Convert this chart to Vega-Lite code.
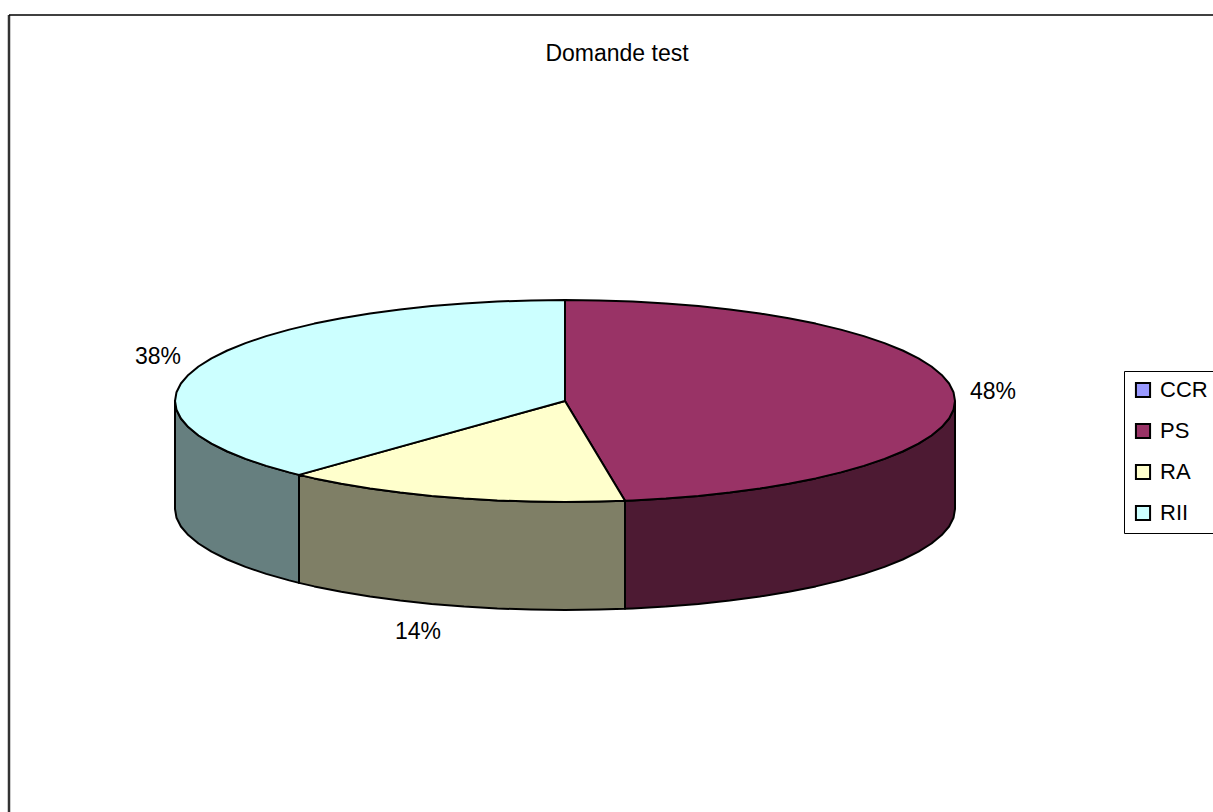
{"$schema":"https://vega.github.io/schema/vega-lite/v6.json","width":1213,"height":812,"autosize":{"type":"none"},"padding":0,"background":"white","view":{"stroke":null},
"datasets":{
"frame":[{"x":-556,"x2":-556,"y":386,"y2":-411,"edge":"left"},{"x":-556,"x2":648,"y":386,"y2":386,"edge":"top"}],
"labels":[{"label":"Domande test","x":52,"y":347},{"label":"48%","x":428,"y":9},{"label":"38%","x":-407,"y":44},{"label":"14%","x":-147,"y":-231}],
"sides":[
{"slice":"PS","i":1,"x":390,"y":0},{"slice":"PS","i":2,"x":388.5,"y":-8.8},{"slice":"PS","i":3,"x":384.1,"y":-17.5},{"slice":"PS","i":4,"x":376.7,"y":-26.1},{"slice":"PS","i":5,"x":366.5,"y":-34.5},{"slice":"PS","i":6,"x":353.5,"y":-42.7},{"slice":"PS","i":7,"x":337.7,"y":-50.5},{"slice":"PS","i":8,"x":319.5,"y":-57.9},{"slice":"PS","i":9,"x":298.8,"y":-64.9},{"slice":"PS","i":10,"x":275.8,"y":-71.4},{"slice":"PS","i":11,"x":250.7,"y":-77.4},{"slice":"PS","i":12,"x":223.7,"y":-82.7},{"slice":"PS","i":13,"x":195,"y":-87.5},{"slice":"PS","i":14,"x":164.8,"y":-91.5},{"slice":"PS","i":15,"x":133.4,"y":-94.9},{"slice":"PS","i":16,"x":100.9,"y":-97.6},{"slice":"PS","i":17,"x":67.7,"y":-99.5},{"slice":"PS","i":18,"x":60,"y":-99.8},
{"slice":"PS","i":19,"x":60,"y":-207.8},{"slice":"PS","i":20,"x":67.7,"y":-207.5},{"slice":"PS","i":21,"x":100.9,"y":-205.6},{"slice":"PS","i":22,"x":133.4,"y":-202.9},{"slice":"PS","i":23,"x":164.8,"y":-199.5},{"slice":"PS","i":24,"x":195,"y":-195.5},{"slice":"PS","i":25,"x":223.7,"y":-190.7},{"slice":"PS","i":26,"x":250.7,"y":-185.4},{"slice":"PS","i":27,"x":275.8,"y":-179.4},{"slice":"PS","i":28,"x":298.8,"y":-172.9},{"slice":"PS","i":29,"x":319.5,"y":-165.9},{"slice":"PS","i":30,"x":337.7,"y":-158.5},{"slice":"PS","i":31,"x":353.5,"y":-150.7},{"slice":"PS","i":32,"x":366.5,"y":-142.5},{"slice":"PS","i":33,"x":376.7,"y":-134.1},{"slice":"PS","i":34,"x":384.1,"y":-125.5},{"slice":"PS","i":35,"x":388.5,"y":-116.8},{"slice":"PS","i":36,"x":390,"y":-108},{"slice":"PS","i":37,"x":390,"y":0},
{"slice":"RA","i":1,"x":60,"y":-99.8},{"slice":"RA","i":2,"x":34,"y":-100.6},{"slice":"RA","i":3,"x":0,"y":-101},{"slice":"RA","i":4,"x":-34,"y":-100.6},{"slice":"RA","i":5,"x":-67.7,"y":-99.5},{"slice":"RA","i":6,"x":-100.9,"y":-97.6},{"slice":"RA","i":7,"x":-133.4,"y":-94.9},{"slice":"RA","i":8,"x":-164.8,"y":-91.5},{"slice":"RA","i":9,"x":-195,"y":-87.5},{"slice":"RA","i":10,"x":-223.7,"y":-82.7},{"slice":"RA","i":11,"x":-250.7,"y":-77.4},{"slice":"RA","i":12,"x":-266,"y":-73.9},
{"slice":"RA","i":13,"x":-266,"y":-181.9},{"slice":"RA","i":14,"x":-250.7,"y":-185.4},{"slice":"RA","i":15,"x":-223.7,"y":-190.7},{"slice":"RA","i":16,"x":-195,"y":-195.5},{"slice":"RA","i":17,"x":-164.8,"y":-199.5},{"slice":"RA","i":18,"x":-133.4,"y":-202.9},{"slice":"RA","i":19,"x":-100.9,"y":-205.6},{"slice":"RA","i":20,"x":-67.7,"y":-207.5},{"slice":"RA","i":21,"x":-34,"y":-208.6},{"slice":"RA","i":22,"x":0,"y":-209},{"slice":"RA","i":23,"x":34,"y":-208.6},{"slice":"RA","i":24,"x":60,"y":-207.8},{"slice":"RA","i":25,"x":60,"y":-99.8},
{"slice":"RII","i":1,"x":-266,"y":-73.9},{"slice":"RII","i":2,"x":-275.8,"y":-71.4},{"slice":"RII","i":3,"x":-298.8,"y":-64.9},{"slice":"RII","i":4,"x":-319.5,"y":-57.9},{"slice":"RII","i":5,"x":-337.7,"y":-50.5},{"slice":"RII","i":6,"x":-353.5,"y":-42.7},{"slice":"RII","i":7,"x":-366.5,"y":-34.5},{"slice":"RII","i":8,"x":-376.7,"y":-26.1},{"slice":"RII","i":9,"x":-384.1,"y":-17.5},{"slice":"RII","i":10,"x":-388.5,"y":-8.8},{"slice":"RII","i":11,"x":-390,"y":0},
{"slice":"RII","i":12,"x":-390,"y":-108},{"slice":"RII","i":13,"x":-388.5,"y":-116.8},{"slice":"RII","i":14,"x":-384.1,"y":-125.5},{"slice":"RII","i":15,"x":-376.7,"y":-134.1},{"slice":"RII","i":16,"x":-366.5,"y":-142.5},{"slice":"RII","i":17,"x":-353.5,"y":-150.7},{"slice":"RII","i":18,"x":-337.7,"y":-158.5},{"slice":"RII","i":19,"x":-319.5,"y":-165.9},{"slice":"RII","i":20,"x":-298.8,"y":-172.9},{"slice":"RII","i":21,"x":-275.8,"y":-179.4},{"slice":"RII","i":22,"x":-266,"y":-181.9},{"slice":"RII","i":23,"x":-266,"y":-73.9}
],
"tops":[
{"slice":"PS","i":0,"x":0,"y":0},{"slice":"PS","i":1,"x":0,"y":101},{"slice":"PS","i":2,"x":34,"y":100.6},{"slice":"PS","i":3,"x":67.7,"y":99.5},{"slice":"PS","i":4,"x":100.9,"y":97.6},{"slice":"PS","i":5,"x":133.4,"y":94.9},{"slice":"PS","i":6,"x":164.8,"y":91.5},{"slice":"PS","i":7,"x":195,"y":87.5},{"slice":"PS","i":8,"x":223.7,"y":82.7},{"slice":"PS","i":9,"x":250.7,"y":77.4},{"slice":"PS","i":10,"x":275.8,"y":71.4},{"slice":"PS","i":11,"x":298.8,"y":64.9},{"slice":"PS","i":12,"x":319.5,"y":57.9},{"slice":"PS","i":13,"x":337.7,"y":50.5},{"slice":"PS","i":14,"x":353.5,"y":42.7},{"slice":"PS","i":15,"x":366.5,"y":34.5},{"slice":"PS","i":16,"x":376.7,"y":26.1},{"slice":"PS","i":17,"x":384.1,"y":17.5},{"slice":"PS","i":18,"x":388.5,"y":8.8},{"slice":"PS","i":19,"x":390,"y":0},{"slice":"PS","i":20,"x":388.5,"y":-8.8},{"slice":"PS","i":21,"x":384.1,"y":-17.5},{"slice":"PS","i":22,"x":376.7,"y":-26.1},{"slice":"PS","i":23,"x":366.5,"y":-34.5},{"slice":"PS","i":24,"x":353.5,"y":-42.7},{"slice":"PS","i":25,"x":337.7,"y":-50.5},{"slice":"PS","i":26,"x":319.5,"y":-57.9},{"slice":"PS","i":27,"x":298.8,"y":-64.9},{"slice":"PS","i":28,"x":275.8,"y":-71.4},{"slice":"PS","i":29,"x":250.7,"y":-77.4},{"slice":"PS","i":30,"x":223.7,"y":-82.7},{"slice":"PS","i":31,"x":195,"y":-87.5},{"slice":"PS","i":32,"x":164.8,"y":-91.5},{"slice":"PS","i":33,"x":133.4,"y":-94.9},{"slice":"PS","i":34,"x":100.9,"y":-97.6},{"slice":"PS","i":35,"x":67.7,"y":-99.5},{"slice":"PS","i":36,"x":60,"y":-99.8},{"slice":"PS","i":37,"x":0,"y":0},
{"slice":"RA","i":0,"x":0,"y":0},{"slice":"RA","i":1,"x":60,"y":-99.8},{"slice":"RA","i":2,"x":34,"y":-100.6},{"slice":"RA","i":3,"x":0,"y":-101},{"slice":"RA","i":4,"x":-34,"y":-100.6},{"slice":"RA","i":5,"x":-67.7,"y":-99.5},{"slice":"RA","i":6,"x":-100.9,"y":-97.6},{"slice":"RA","i":7,"x":-133.4,"y":-94.9},{"slice":"RA","i":8,"x":-164.8,"y":-91.5},{"slice":"RA","i":9,"x":-195,"y":-87.5},{"slice":"RA","i":10,"x":-223.7,"y":-82.7},{"slice":"RA","i":11,"x":-250.7,"y":-77.4},{"slice":"RA","i":12,"x":-266,"y":-73.9},{"slice":"RA","i":13,"x":0,"y":0},
{"slice":"RII","i":0,"x":0,"y":0},{"slice":"RII","i":1,"x":-266,"y":-73.9},{"slice":"RII","i":2,"x":-275.8,"y":-71.4},{"slice":"RII","i":3,"x":-298.8,"y":-64.9},{"slice":"RII","i":4,"x":-319.5,"y":-57.9},{"slice":"RII","i":5,"x":-337.7,"y":-50.5},{"slice":"RII","i":6,"x":-353.5,"y":-42.7},{"slice":"RII","i":7,"x":-366.5,"y":-34.5},{"slice":"RII","i":8,"x":-376.7,"y":-26.1},{"slice":"RII","i":9,"x":-384.1,"y":-17.5},{"slice":"RII","i":10,"x":-388.5,"y":-8.8},{"slice":"RII","i":11,"x":-390,"y":0},{"slice":"RII","i":12,"x":-388.5,"y":8.8},{"slice":"RII","i":13,"x":-384.1,"y":17.5},{"slice":"RII","i":14,"x":-376.7,"y":26.1},{"slice":"RII","i":15,"x":-366.5,"y":34.5},{"slice":"RII","i":16,"x":-353.5,"y":42.7},{"slice":"RII","i":17,"x":-337.7,"y":50.5},{"slice":"RII","i":18,"x":-319.5,"y":57.9},{"slice":"RII","i":19,"x":-298.8,"y":64.9},{"slice":"RII","i":20,"x":-275.8,"y":71.4},{"slice":"RII","i":21,"x":-250.7,"y":77.4},{"slice":"RII","i":22,"x":-223.7,"y":82.7},{"slice":"RII","i":23,"x":-195,"y":87.5},{"slice":"RII","i":24,"x":-164.8,"y":91.5},{"slice":"RII","i":25,"x":-133.4,"y":94.9},{"slice":"RII","i":26,"x":-100.9,"y":97.6},{"slice":"RII","i":27,"x":-67.7,"y":99.5},{"slice":"RII","i":28,"x":-34,"y":100.6},{"slice":"RII","i":29,"x":0,"y":101},{"slice":"RII","i":30,"x":0,"y":0}
]},
"layer":[
{"data":{"name":"frame"},"mark":{"type":"rule","color":"#000000"},"encoding":{"x":{"field":"x","type":"quantitative","scale":{"domain":[-565,648]},"axis":null},"x2":{"field":"x2"},"y":{"field":"y","type":"quantitative","scale":{"domain":[-411,401]},"axis":null},"y2":{"field":"y2"},"strokeWidth":{"field":"edge","type":"nominal","scale":{"domain":["left","top"],"range":[2.5,1.5]},"legend":null},"color":{"field":"edge","type":"nominal","scale":{"domain":["left","top"],"range":["#333333","#000000"]},"legend":null}}},
{"data":{"name":"sides"},"mark":{"type":"line","filled":true,"stroke":"#000000","strokeWidth":2,"strokeJoin":"round"},"encoding":{"x":{"field":"x","type":"quantitative","scale":{"domain":[-565,648]},"axis":null},"y":{"field":"y","type":"quantitative","scale":{"domain":[-411,401]},"axis":null},"order":{"field":"i","type":"quantitative"},"detail":{"field":"slice"},"fill":{"field":"slice","type":"nominal","scale":{"domain":["PS","RA","RII"],"range":["#4D1A33","#7F7F66","#667F7F"]},"legend":null}}},
{"data":{"name":"tops"},"mark":{"type":"line","filled":true,"stroke":"#000000","strokeWidth":2,"strokeJoin":"round"},"encoding":{"x":{"field":"x","type":"quantitative","scale":{"domain":[-565,648]},"axis":null},"y":{"field":"y","type":"quantitative","scale":{"domain":[-411,401]},"axis":null},"order":{"field":"i","type":"quantitative"},"detail":{"field":"slice"},"fill":{"field":"slice","type":"nominal","scale":{"domain":["CCR","PS","RA","RII"],"range":["#9999FF","#993366","#FFFFCC","#CCFFFF"]},"legend":{"title":null,"orient":"none","legendX":1124,"legendY":371,"symbolType":"square","symbolSize":200,"symbolStrokeColor":"#000000","symbolStrokeWidth":2,"labelFont":"Liberation Sans","labelFontSize":22,"labelColor":"#000000","fillColor":"#ffffff","strokeColor":"#000000","padding":8,"rowPadding":17,"labelOffset":6}}}},
{"data":{"name":"labels"},"mark":{"type":"text","font":"Liberation Sans","fontSize":23,"color":"#000000"},"encoding":{"x":{"field":"x","type":"quantitative","scale":{"domain":[-565,648]},"axis":null},"y":{"field":"y","type":"quantitative","scale":{"domain":[-411,401]},"axis":null},"text":{"field":"label"}}}
],
"resolve":{"scale":{"fill":"independent","color":"independent","strokeWidth":"independent"}}
}
